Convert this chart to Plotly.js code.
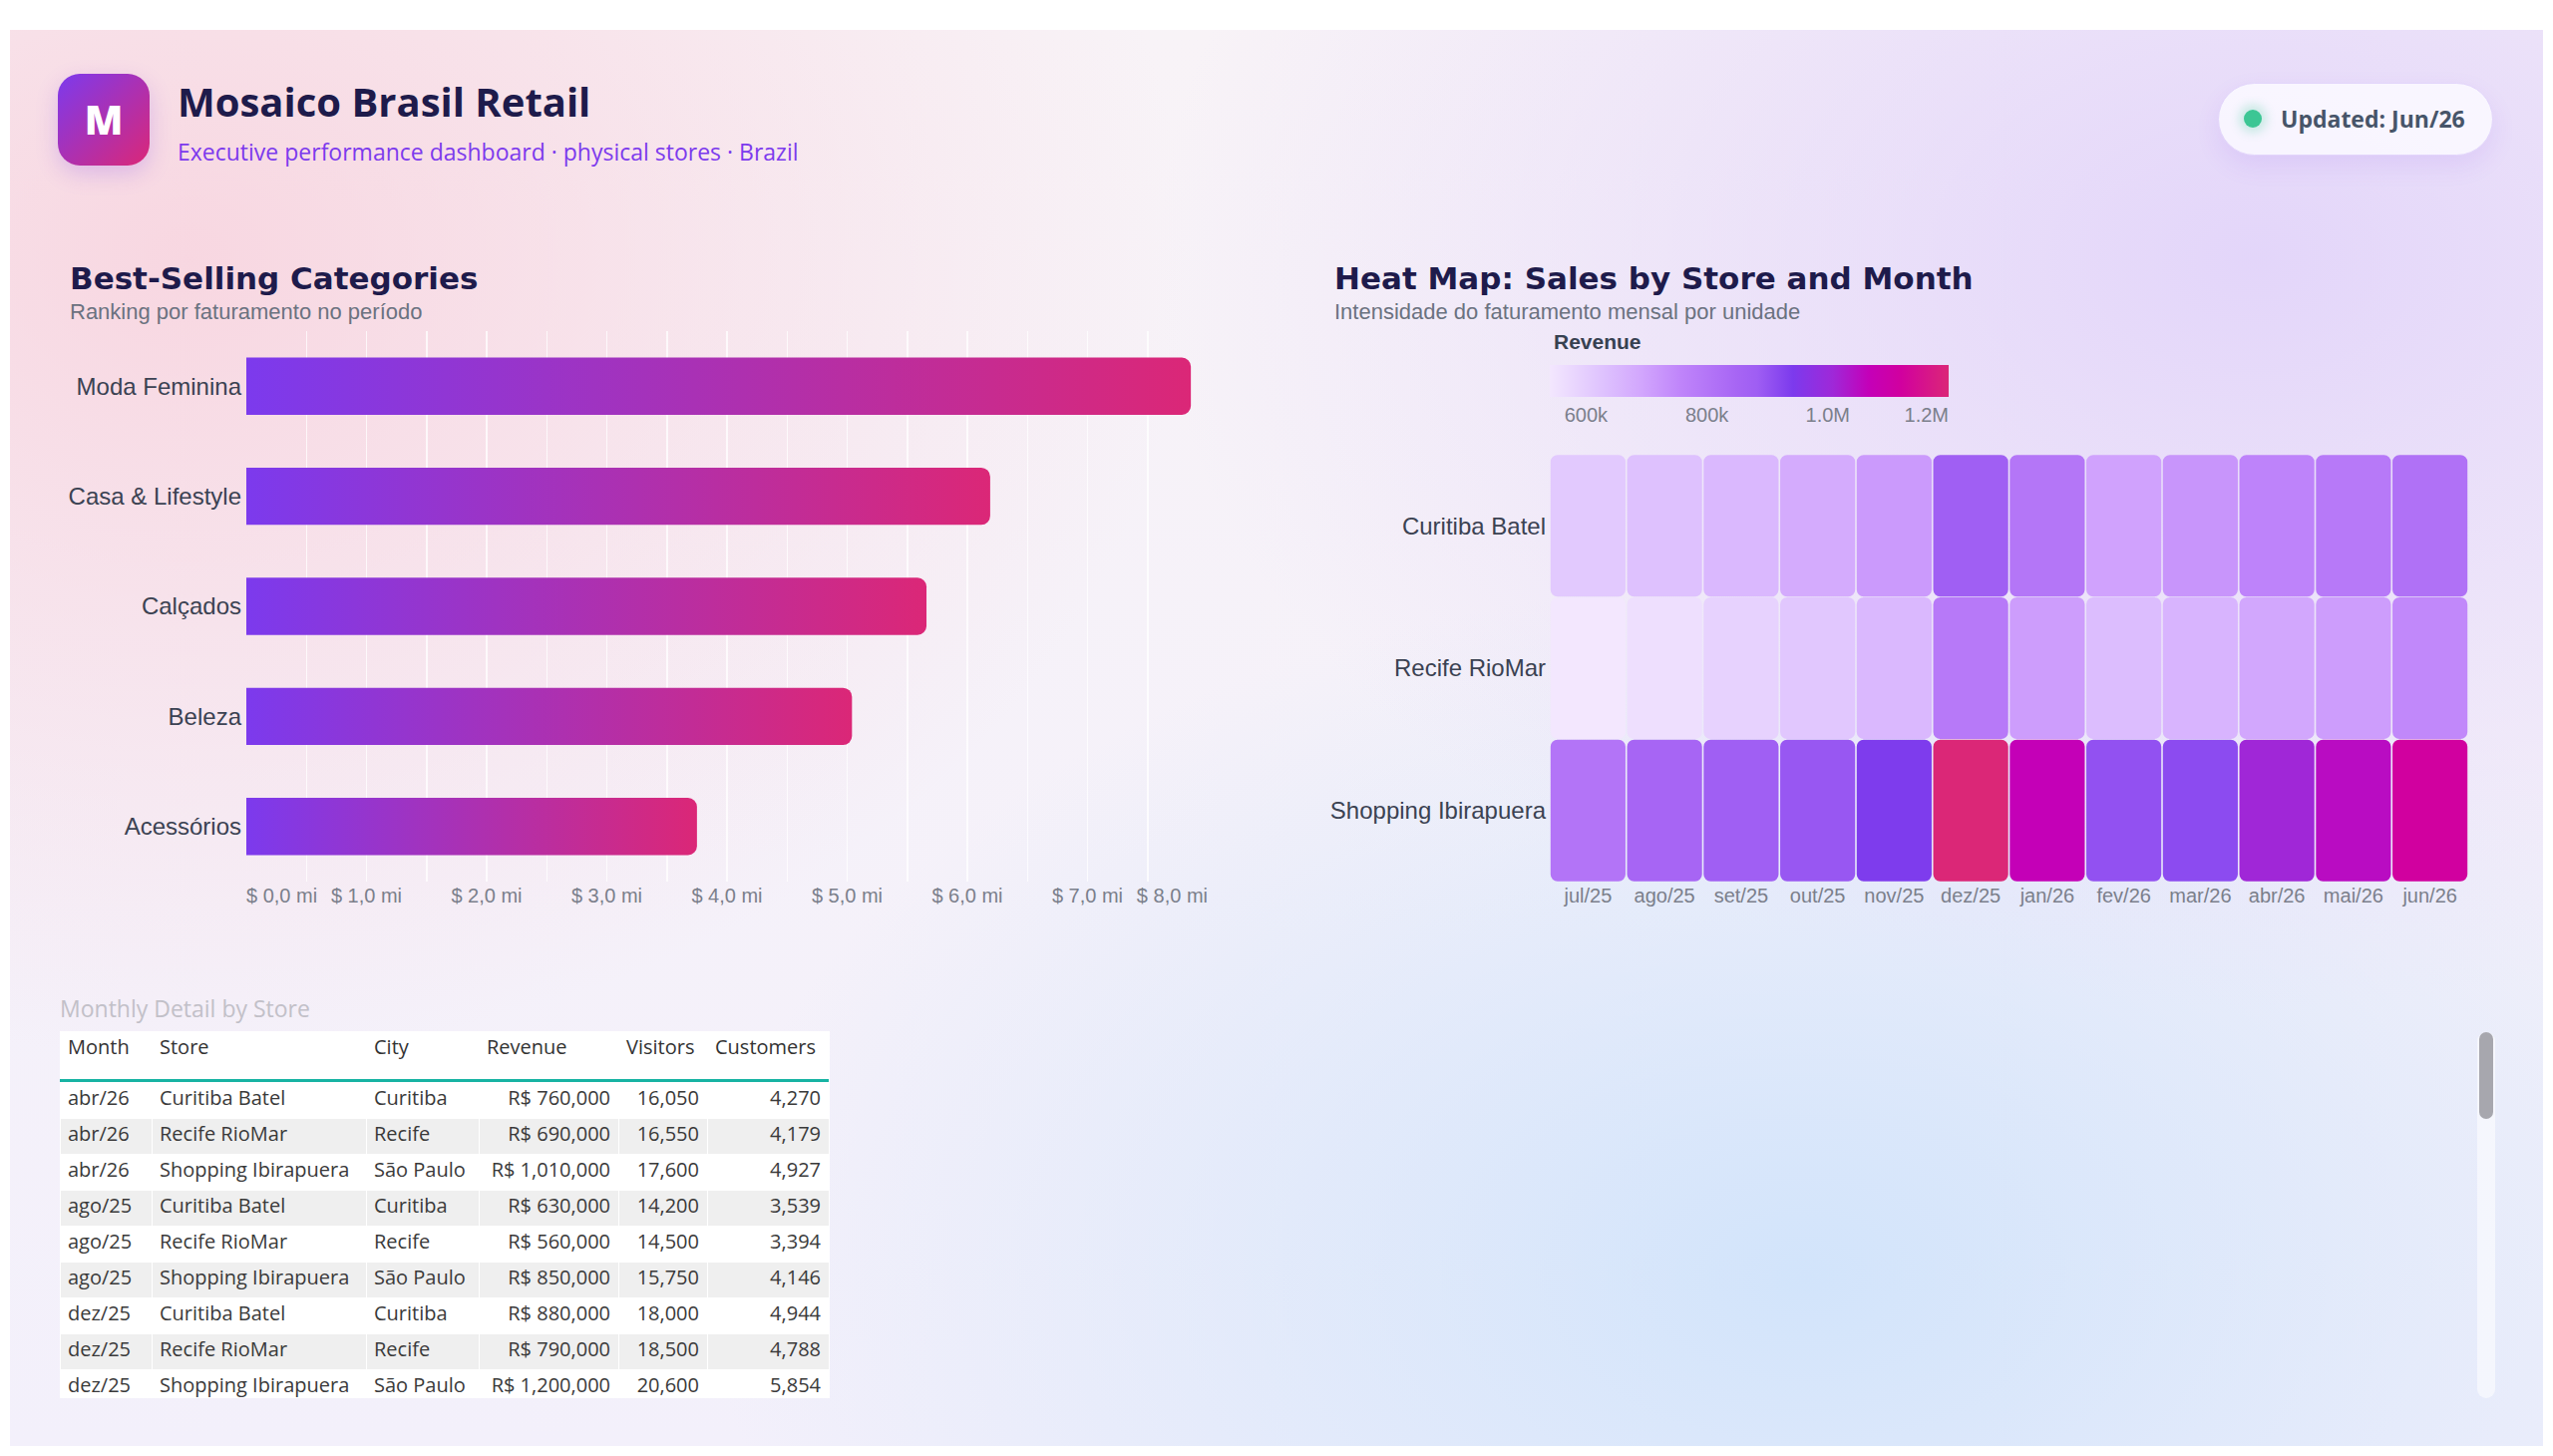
<!DOCTYPE html>
<html><head><meta charset="utf-8">
<script src="https://cdn.plot.ly/plotly-3.0.1.min.js"></script>
<style>
html,body{margin:0;padding:0;background:#fff;width:2560px;height:1460px;overflow:hidden;}
.abs{position:absolute;}
#page{position:absolute;left:10px;top:30px;width:2540px;height:1420px;
background:
 radial-gradient(ellipse 1000px 800px at 180px 230px, rgba(248,210,221,0.85), rgba(248,210,221,0) 100%),
 radial-gradient(ellipse 1100px 750px at 2250px 230px, rgba(226,212,250,0.95), rgba(226,212,250,0) 100%),
 radial-gradient(ellipse 1100px 700px at 1800px 1250px, rgba(210,228,251,1), rgba(210,228,251,0) 100%),
 linear-gradient(180deg,#f8f3f7 0%,#f3f0fb 100%);}
#logo{position:absolute;left:58px;top:74px;width:92px;height:92px;border-radius:22px;
 background:linear-gradient(135deg,#7c3aed 0%,#db2777 100%);box-shadow:0 8px 22px rgba(124,58,237,0.22);
 color:#fff;font:800 40px/92px "Open Sans",sans-serif;text-align:center;}
#title{position:absolute;left:178px;top:82px;font:700 40px/40px "Open Sans",sans-serif;color:#1e1b4b;white-space:nowrap;}
#subtitle{position:absolute;left:178px;top:141px;font:400 23px/23px "Open Sans",sans-serif;color:#7c3aed;white-space:nowrap;}
#pill{position:absolute;left:2224px;top:83px;width:276px;height:73px;border-radius:37px;box-sizing:border-box;
 background:rgba(250,247,255,0.92);border:1.5px solid #e2d5fb;box-shadow:0 10px 24px rgba(124,58,237,0.10);}
#dot{position:absolute;left:25px;top:26px;width:18px;height:18px;border-radius:50%;background:#3cc694;box-shadow:0 0 10px 5px rgba(60,198,148,0.25);}
#upd{position:absolute;left:62px;top:24px;font:700 23px/23px "Open Sans",sans-serif;color:#475569;white-space:nowrap;}
#tblwrap{left:40px;top:980px;width:800px;height:422px;overflow:hidden;}
#teal{position:absolute;left:60px;top:1082px;width:771px;height:3px;background:#17b3a3;}
#track{position:absolute;left:2484px;top:1035px;width:18px;height:367px;border-radius:9px;background:rgba(255,255,255,0.55);}
#thumb{position:absolute;left:2px;top:0;width:14px;height:87px;border-radius:7px;background:#a7a7ae;}
</style></head><body>
<svg width="0" height="0" style="position:absolute"><defs id="defs"><linearGradient id="barGrad" x1="0" y1="0" x2="1" y2="0"><stop offset="0" stop-color="#7c3aed"/><stop offset="1" stop-color="#db2777"/></linearGradient></defs></svg>
<div id="page"></div>
<div id="logo">M</div>
<div id="title">Mosaico Brasil Retail</div>
<div id="subtitle">Executive performance dashboard · physical stores · Brazil</div>
<div id="pill"><span id="dot"></span><span id="upd">Updated: Jun/26</span></div>
<div id="bar" class="abs" style="left:40px;top:240px;width:1240px;height:700px;"></div>
<div id="heat" class="abs" style="left:1300px;top:240px;width:1240px;height:700px;"></div>
<div id="tblwrap" class="abs"><div id="tbl"></div></div>
<div id="teal"></div>
<div id="track"><div id="thumb"></div></div>
<script>
// ---------- data: best-selling categories ----------
const categories = ['Moda Feminina','Casa & Lifestyle','Calçados','Beleza','Acessórios'];
const categoryRevenueMi = [7.86, 6.19, 5.66, 5.04, 3.75];
const barAxisMax = 8;
const barInnerTicks = [1,2,3,4,5,6,7];

// ---------- data: heat map ----------
const months = ['jul/25','ago/25','set/25','out/25','nov/25','dez/25','jan/26','fev/26','mar/26','abr/26','mai/26','jun/26'];
const stores = ['Curitiba Batel','Recife RioMar','Shopping Ibirapuera'];
const revCuritiba = [610000,630000,650000,680000,715000,880000,800000,700000,725000,760000,790000,815000];
const revRecife   = [540000,560000,590000,615000,650000,790000,710000,640000,660000,690000,710000,750000];
const revShopping = [805000,850000,880000,895000,940000,1200000,1070000,905000,915000,1010000,1050000,1120000];
const cbTickVals = [600000,800000,1000000,1200000];
const cbTickText = ['600k','800k','1.0M','1.2M'];

// ---------- data: table ----------
const tblHeaders   = ['Month','Store','City','Revenue','Visitors','Customers'];
const tblMonth     = ['abr/26','abr/26','abr/26','ago/25','ago/25','ago/25','dez/25','dez/25','dez/25'];
const tblStore     = ['Curitiba Batel','Recife RioMar','Shopping Ibirapuera','Curitiba Batel','Recife RioMar','Shopping Ibirapuera','Curitiba Batel','Recife RioMar','Shopping Ibirapuera'];
const tblCity      = ['Curitiba','Recife','São Paulo','Curitiba','Recife','São Paulo','Curitiba','Recife','São Paulo'];
const tblRevenue   = [760000,690000,1010000,630000,560000,850000,880000,790000,1200000];
const tblVisitors  = [16050,16550,17600,14200,14500,15750,18000,18500,20600];
const tblCustomers = [4270,4179,4927,3539,3394,4146,4944,4788,5854];

const AXF = 'Liberation Sans, Arial, sans-serif';
const TITF = 'DejaVu Sans, sans-serif';
const TICKC = '#7b7f8b';
const LABC = '#3b4252';
const cfg = {displayModeBar:false, staticPlot:true};
const nb = s => s.replace(/ /g, '\u00a0');
const miLabel = v => '$ ' + v.toFixed(1).replace('.', ',') + ' mi';

function titleAnn(text, x, y){
  return {text:text, xref:'paper', yref:'paper', x:x, y:y, xanchor:'left', yanchor:'top', showarrow:false,
          font:{family:TITF, size:31, color:'#1e1b4b', weight:700}};
}
function subAnn(text, x, y){
  return {text:text, xref:'paper', yref:'paper', x:x, y:y, xanchor:'left', yanchor:'top', showarrow:false,
          font:{family:AXF, size:22, color:'#6b7280'}};
}

// ---------- bar chart ----------
const bPW = 964, bPH = 552;
const labelAxis = (vals, extra) => Object.assign({overlaying:'x', anchor:'y', side:'bottom', type:'linear', range:[0,barAxisMax],
  tickmode:'array', tickvals:vals, ticktext:vals.map(miLabel), showgrid:false, zeroline:false, showline:false,
  ticks:'', tickfont:{family:AXF, size:20, color:TICKC}}, extra || {});
const axisHolder = ax => ({type:'scatter', mode:'none', x:categoryRevenueMi, y:categories, xaxis:ax, yaxis:'y',
  hoverinfo:'skip', showlegend:false});
Plotly.newPlot('bar', [{
  type:'bar', orientation:'h', x:categoryRevenueMi, y:categories,
  marker:{color:'#ab31b2', cornerradius:9, line:{width:0}}, hoverinfo:'skip'
}, axisHolder('x2'), axisHolder('x3'), axisHolder('x4')], {
  width:1240, height:700, margin:{l:207, r:69, t:92, b:56},
  paper_bgcolor:'rgba(0,0,0,0)', plot_bgcolor:'rgba(0,0,0,0)', showlegend:false, bargap:0.48,
  font:{family:AXF},
  xaxis:{range:[0,barAxisMax], tick0:0, dtick:0.5, showgrid:true, gridcolor:'rgba(255,255,255,0.75)', gridwidth:1.5,
         zeroline:false, showline:false, showticklabels:false, ticks:''},
  xaxis2:labelAxis(barInnerTicks),
  xaxis3:labelAxis([0], {ticklabelposition:'outside right'}),
  xaxis4:labelAxis([barAxisMax], {ticklabelposition:'outside left'}),
  yaxis:{type:'category', autorange:'reversed', showgrid:false, zeroline:false, showline:false, ticks:'',
         ticklabelstandoff:4, tickfont:{family:AXF, size:24, color:LABC}},
  annotations:[
    titleAnn('Best-Selling Categories', (68-247)/bPW, 1 + (92-19)/bPH),
    subAnn('Ranking por faturamento no período', (68-247)/bPW, 1 + (92-58)/bPH)
  ]
}, cfg).then(gd => {
  gd.querySelectorAll('.barlayer path').forEach(p => { p.style.fill = 'url(#barGrad)'; });
});

// ---------- heat map ----------
const hL = 254, hT = 216, hPW = 921, hPH = 428;
const zAll = [revCuritiba, revRecife, revShopping];
const zFlat = [].concat(...zAll);
const cbText = cbTickText.map((t,i) => i === cbTickText.length-1 ? t + '\u00a0'.repeat(8) : t);
Plotly.newPlot('heat', [{
  type:'heatmap', x:months, y:stores, z:zAll, zmin:Math.min(...zFlat), zmax:Math.max(...zFlat),
  colorscale:[[0,'#f3e7fe'],[0.14,'#ddc0fe'],[0.23,'#d2a6fd'],[0.33,'#bf84fa'],[0.47,'#a765f4'],[0.52,'#9f5ef3'],
              [0.61,'#7c3aed'],[0.71,'#9f28d8'],[0.8,'#c400b8'],[0.88,'#d1009f'],[1,'#db2777']],
  hoverinfo:'skip', showscale:true,
  colorbar:{orientation:'h', x:0, xanchor:'left', xpad:0, y:1 + (hT-180)/hPH, yanchor:'bottom', ypad:0,
            len:400, lenmode:'pixels', thickness:32, thicknessmode:'pixels', outlinewidth:0, ticks:'', ticklen:0,
            tickmode:'array', tickvals:cbTickVals, ticktext:cbText, tickfont:{family:AXF, size:20, color:TICKC},
            title:{text:''}}
}], {
  width:1240, height:700, margin:{l:hL, r:1240-hL-hPW, t:hT, b:700-hT-hPH},
  paper_bgcolor:'rgba(0,0,0,0)', plot_bgcolor:'rgba(0,0,0,0)', font:{family:AXF},
  xaxis:{type:'category', showgrid:false, zeroline:false, showline:false, ticks:'', tickfont:{family:AXF, size:20, color:TICKC}},
  yaxis:{type:'category', autorange:'reversed', showgrid:false, zeroline:false, showline:false, ticks:'',
         ticklabelstandoff:3, tickfont:{family:AXF, size:24, color:LABC}},
  annotations:[
    titleAnn('Heat Map: Sales by Store and Month', (1336-1554)/hPW, 1 + (hT-19)/hPH),
    subAnn('Intensidade do faturamento mensal por unidade', (1336-1554)/hPW, 1 + (hT-58)/hPH),
    {text:'Revenue', xref:'paper', yref:'paper', x:(1556-1554)/hPW, y:1 + (hT-89)/hPH, xanchor:'left', yanchor:'top',
     showarrow:false, font:{family:AXF, size:21, color:'#374151', weight:700}}
  ]
}, cfg).then(gd => {
  const xa = gd._fullLayout.xaxis, ya = gd._fullLayout.yaxis;
  const img = gd.querySelector('.hm image');
  if (!img) return;
  const ns = 'http://www.w3.org/2000/svg';
  const cp = document.createElementNS(ns, 'clipPath');
  cp.setAttribute('id', 'cellClip');
  const cw = Math.abs(xa.l2p(1) - xa.l2p(0)), ch = Math.abs(ya.l2p(1) - ya.l2p(0));
  stores.forEach((s, j) => months.forEach((m, i) => {
    const r = document.createElementNS(ns, 'rect');
    r.setAttribute('x', xa.l2p(i) - cw/2 + 0.8);
    r.setAttribute('y', ya.l2p(j) - ch/2 + 0.3);
    r.setAttribute('width', cw - 1.6);
    r.setAttribute('height', ch - 0.6);
    r.setAttribute('rx', 7); r.setAttribute('ry', 7);
    cp.appendChild(r);
  }));
  document.getElementById('defs').appendChild(cp);
  img.setAttribute('clip-path', 'url(#cellClip)');
});

// ---------- table ----------
const rowFill = tblMonth.map((_, i) => i % 2 === 0 ? '#ffffff' : '#efefef');
const tPW = 771, tPH = 51 + 36*tblMonth.length;
Plotly.newPlot('tbl', [{
  type:'table', columnwidth:[92,215,113,140,89,122],
  header:{values:tblHeaders, height:51, align:'left', fill:{color:'#ffffff'}, line:{color:'#ffffff', width:1},
          font:{family:'Open Sans, sans-serif', size:20, color:'#333333'}},
  cells:{values:[tblMonth, tblStore.map(nb), tblCity.map(nb), tblRevenue, tblVisitors, tblCustomers], height:36,
         align:['left','left','left','right','right','right'],
         format:['','','',',.0f',',.0f',',.0f'], prefix:['','','','R$ ','',''],
         fill:{color:tblHeaders.map(() => rowFill)}, line:{color:'#ffffff', width:1},
         font:{family:'Open Sans, sans-serif', size:20, color:'#3a3a3a'}}
}], {
  width:800, height:54 + tPH + 20, margin:{l:20, r:800-20-tPW, t:54, b:20},
  paper_bgcolor:'rgba(0,0,0,0)', plot_bgcolor:'rgba(0,0,0,0)',
  annotations:[{text:'Monthly Detail by Store', xref:'paper', yref:'paper', x:(58-60)/tPW, y:1 + (54-13)/tPH,
                xanchor:'left', yanchor:'top', showarrow:false, font:{family:'Open Sans, sans-serif', size:23, color:'#c2c0c8'}}]
}, cfg);
</script>
</body></html>
